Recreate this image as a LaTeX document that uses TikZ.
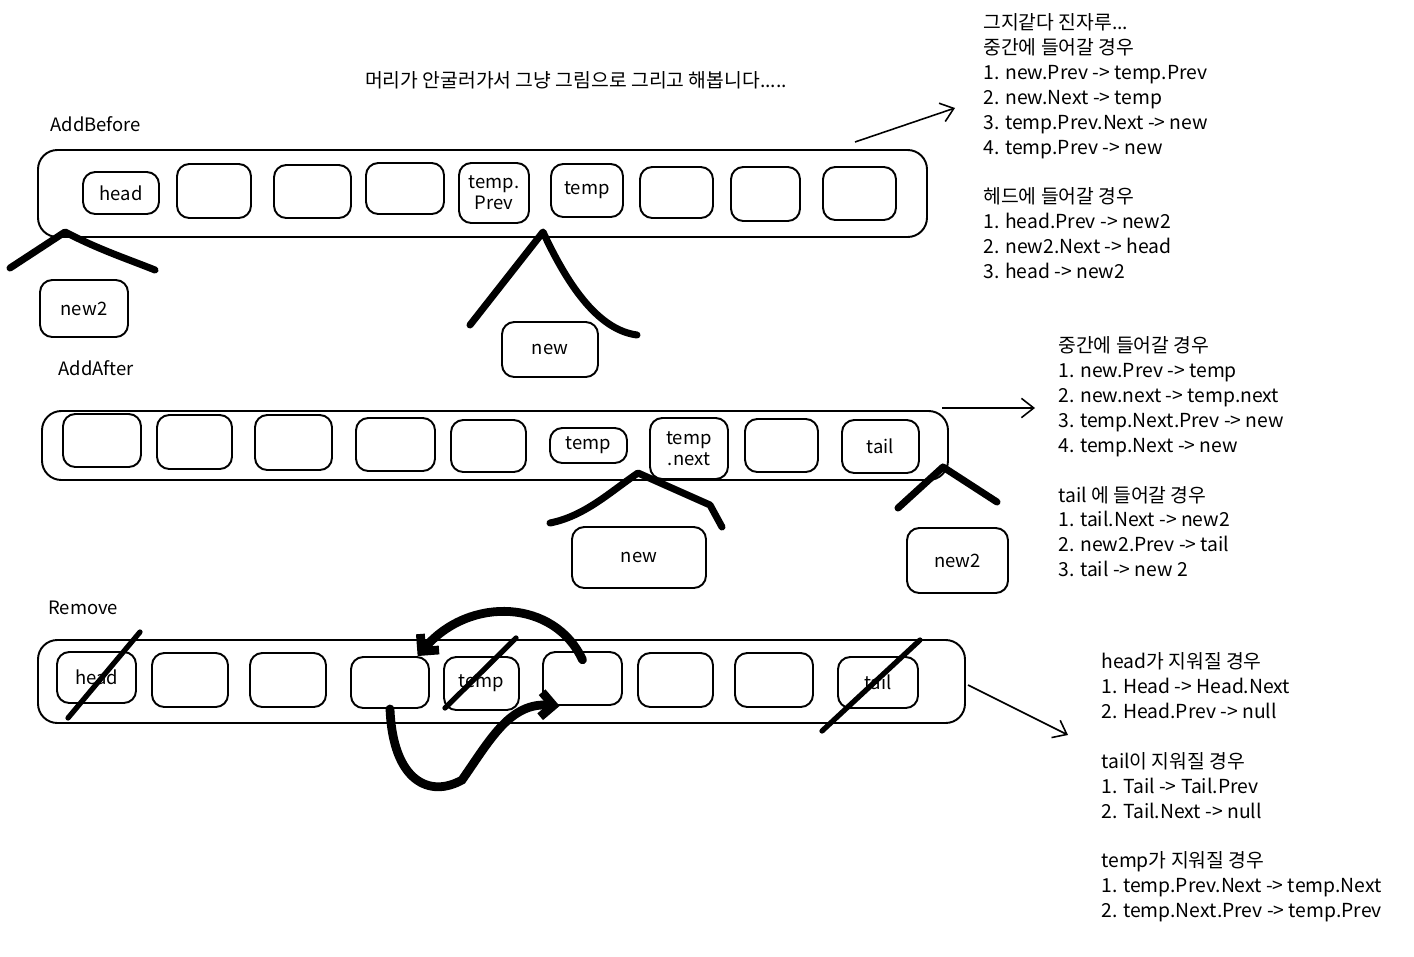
\documentclass[tikz,border=0pt]{standalone}
\usepackage{fontspec}
\setmainfont{Noto Sans CJK KR}
\usetikzlibrary{arrows.meta, positioning, fit}

\tikzset{
  cell/.style={draw, line width=1.1pt, rounded corners=7pt, inner sep=0pt},
  celltext/.style={inner sep=0pt, align=center, font=\fontsize{10.5pt}{12pt}\selectfont},
  listbox/.style={draw, line width=1.1pt, rounded corners=11pt, inner sep=0pt},
  stroke/.style={line width=4pt, line cap=round, line join=round},
  strike/.style={line width=3pt, line cap=round},
  bigarrow/.style={line width=5pt, line cap=round, -{Straight Barb[length=7pt, width=14pt]}},
  pointer/.style={line width=0.9pt, -{Straight Barb[length=7pt, width=11pt]}},
  note/.style={anchor=north west, align=left, inner sep=0pt,
    font=\fontsize{11pt}{14.2pt}\selectfont},
  heading/.style={anchor=west, inner sep=0pt, font=\fontsize{10.5pt}{12pt}\selectfont},
}

\begin{document}
\begin{tikzpicture}[x=0.02cm, y=-0.02cm]
\useasboundingbox (0,0) rectangle (1414,957);

\node[heading, anchor=center, font=\fontsize{11pt}{12pt}\selectfont] (title) at (576,80) {머리가 안굴러가서 그냥 그림으로 그리고 해봅니다.....};

% AddBefore
\node[heading] (hbefore) at (50,124) {AddBefore};
\node[listbox, fit={(38,150) (927,237)}] (blist) {};
\foreach \n/\xa/\ya/\xb/\yb/\t in {b1/83/172/159/214/head, b2/177/164/251/218/{},
    b3/274/165/351/218/{}, b4/366/163/444/214/{}, b5/459/163/529/223/{temp.\\Prev},
    b6/551/164/623/217/temp, b7/640/167/713/218/{}, b8/731/167/800/221/{},
    b9/823/167/896/220/{}}
  \node[cell, fit={(\xa,\ya) (\xb,\yb)}] (\n) {} node[celltext] (\n-txt) at (\n.center) {\t};
\node[cell, fit={(40,280) (128,337)}] (bnew2) {};
\node[celltext] (bnew2-txt) at (bnew2.center) {new2};
\node[cell, fit={(502,322) (598,377)}] (bnew) {};
\node[celltext] (bnew-txt) at (bnew.center) {new};

\draw[stroke] (10,268) -- (65,232) .. controls (100,250) and (125,258) .. (155,270);
\draw[stroke] (470,325) -- (543,232) .. controls (570,290) and (600,330) .. (637,335);

% AddAfter
\node[heading] (hafter) at (58,368) {AddAfter};
\node[listbox, fit={(42,411) (948,480)}] (alist) {};
\foreach \n/\xa/\ya/\xb/\yb/\t in {a1/63/414/141/467/{}, a2/157/415/232/469/{},
    a3/255/415/332/470/{}, a4/356/418/435/471/{}, a5/451/420/526/472/{},
    a6/550/428/627/463/temp, a7/650/418/728/479/{temp\\.next}, a8/745/419/818/472/{},
    a9/842/420/919/473/tail}
  \node[cell, fit={(\xa,\ya) (\xb,\yb)}] (\n) {} node[celltext] (\n-txt) at (\n.center) {\t};
\node[cell, fit={(572,527) (706,588)}] (anew) {};
\node[celltext] (anew-txt) at (anew.center) {new};
\node[cell, fit={(907,528) (1008,593)}] (anew2) {};
\node[celltext] (anew2-txt) at (anew2.center) {new2};

\draw[stroke] (550,523) .. controls (585,516) and (610,492) .. (638,473) -- (710,505) -- (722,527);
\draw[stroke] (898,508) -- (943,467) -- (997,502);

% Remove
\node[heading] (hremove) at (48,608) {Remove};
\node[listbox, fit={(38,640) (965,723)}] (rlist) {};
\foreach \n/\xa/\ya/\xb/\yb/\t in {r1/57/652/136/703/head, r2/152/653/228/707/{},
    r3/250/653/326/707/{}, r4/351/657/429/708/{}, r5/444/657/519/710/temp,
    r6/543/652/622/705/{}, r7/638/653/713/707/{}, r8/735/653/813/707/{},
    r9/838/657/918/708/tail}
  \node[cell, fit={(\xa,\ya) (\xb,\yb)}] (\n) {} node[celltext] (\n-txt) at (\n.center) {\t};

\draw[strike] (68,718) -- (140,632);
\draw[strike] (445,708) -- (516,638);
\draw[strike] (822,731) -- (920,640);

\draw[bigarrow] ([yshift=-5pt]r6.north) .. controls (555,600) and (470,595) .. ([xshift=-7pt]r4.north east);
\draw[bigarrow] (r4.south) .. controls (393,782) and (430,798) .. (462,780)
  .. controls (490,740) and (510,702) .. ([xshift=10pt]r6.south west);

% notes
\node[note] (note1) at (983,13) {그지같다 진자루...\\
중간에 들어갈 경우\\
1. new.Prev -> temp.Prev\\
2. new.Next -> temp\\
3. temp.Prev.Next -> new\\
4. temp.Prev -> new\\[14.2pt]
헤드에 들어갈 경우\\
1. head.Prev -> new2\\
2. new2.Next -> head\\
3. head -> new2};

\node[note] (note2) at (1058,336) {중간에 들어갈 경우\\
1. new.Prev -> temp\\
2. new.next -> temp.next\\
3. temp.Next.Prev -> new\\
4. temp.Next -> new\\[14.2pt]
tail 에 들어갈 경우\\
1. tail.Next -> new2\\
2. new2.Prev -> tail\\
3. tail -> new 2};

\node[note] (note3) at (1101,652) {head가 지워질 경우\\
1. Head -> Head.Next\\
2. Head.Prev -> null\\[14.2pt]
tail이 지워질 경우\\
1. Tail -> Tail.Prev\\
2. Tail.Next -> null\\[14.2pt]
temp가 지워질 경우\\
1. temp.Prev.Next -> temp.Next\\
2. temp.Next.Prev -> temp.Prev};

\coordinate (p1a) at (855,142);
\coordinate (p1b) at (955,108);
\coordinate (p2a) at (942,408);
\coordinate (p2b) at (1035,408);
\coordinate (p3a) at (968,685);
\coordinate (p3b) at (1068,735);
\draw[pointer] (p1a) -- (p1b);
\draw[pointer] (p2a) -- (p2b);
\draw[pointer] (p3a) -- (p3b);
\end{tikzpicture}
\end{document}
